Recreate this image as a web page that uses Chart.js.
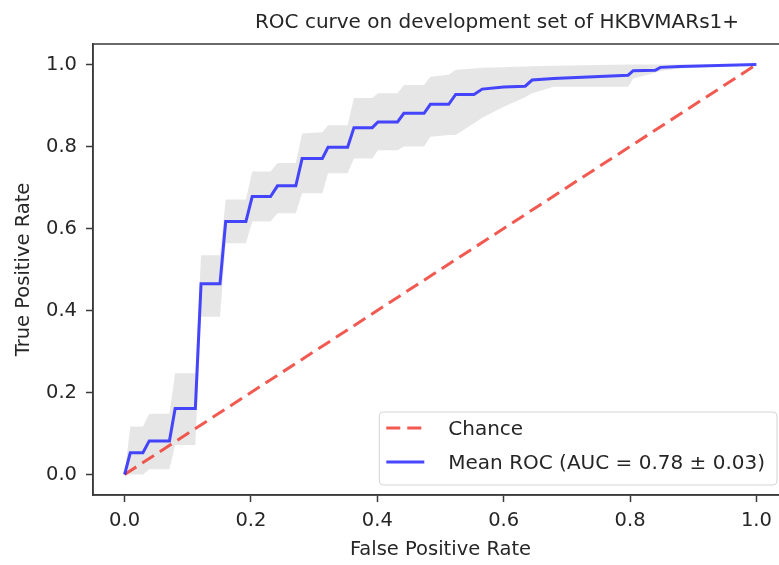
<!DOCTYPE html>
<html>
<head>
<meta charset="utf-8">
<title>ROC curve</title>
<script src="https://cdn.jsdelivr.net/npm/chart.js@4.4.1/dist/chart.umd.min.js"></script>
<style>
  html, body { margin: 0; padding: 0; background: #fff; overflow: hidden; }
  #wrap { width: 800px; height: 565px; }
</style>
</head>
<body>
<div id="wrap"><canvas id="roc" width="800" height="565"></canvas></div>
<script>
/* ── Data ───────────────────────────────────────────────────── */

const fprGrid = [0, 0.009, 0.029, 0.039, 0.071, 0.080, 0.112, 0.121, 0.151, 0.160,
                 0.192, 0.202, 0.231, 0.242, 0.271, 0.281, 0.313, 0.322, 0.353, 0.363,
                 0.392, 0.401, 0.432, 0.442, 0.474, 0.484, 0.513, 0.524, 0.553, 0.566,
                 0.600, 0.634, 0.645, 0.679, 0.797, 0.805, 0.840, 0.848, 0.879, 1.000];

const meanTpr  = [0, 0.053, 0.053, 0.082, 0.082, 0.161, 0.161, 0.465, 0.465, 0.617,
                  0.617, 0.678, 0.678, 0.704, 0.704, 0.771, 0.771, 0.798, 0.798, 0.846,
                  0.846, 0.860, 0.860, 0.881, 0.881, 0.903, 0.903, 0.927, 0.927, 0.940,
                  0.945, 0.947, 0.962, 0.966, 0.974, 0.985, 0.986, 0.993, 0.995, 1.000];

const tprLower = [0, 0, 0, 0.013, 0.013, 0.072, 0.072, 0.385, 0.385, 0.564,
                  0.564, 0.617, 0.617, 0.637, 0.637, 0.686, 0.686, 0.735, 0.735, 0.771,
                  0.771, 0.791, 0.791, 0.800, 0.800, 0.824, 0.828, 0.828, 0.857, 0.870,
                  0.897, 0.920, 0.930, 0.946, 0.946, 0.966, 0.980, 0.984, 0.990, 1.000];

const tprUpper = [0, 0.117, 0.117, 0.148, 0.148, 0.247, 0.247, 0.535, 0.535, 0.671,
                  0.671, 0.739, 0.739, 0.760, 0.760, 0.832, 0.835, 0.852, 0.852, 0.918,
                  0.918, 0.930, 0.930, 0.950, 0.950, 0.970, 0.975, 0.987, 0.990, 0.992,
                  0.993, 0.995, 0.996, 0.997, 1.000, 1.000, 1.000, 1.000, 1.000, 1.000];

const chanceFpr = [0, 1];
const chanceTpr = [0, 1];

const tickValues = [0, 0.2, 0.4, 0.6, 0.8, 1.0];

const titleText   = "ROC curve on development set of HKBVMARs1+";
const xLabel      = "False Positive Rate";
const yLabel      = "True Positive Rate";
const meanLabel   = "Mean ROC (AUC = 0.78 \u00b1 0.03)";
const chanceLabel = "Chance";

/* ── Helpers ────────────────────────────────────────────────── */

const FONT = "'DejaVu Sans', sans-serif";
const TXT  = "#262626";

function toPoints(xs, ys) {
  return xs.map((x, i) => ({ x: x, y: ys[i] }));
}

/* ── Title, frame and legend drawn on top ───────────────────── */

const decorPlugin = {
  id: "decor",
  afterDraw(chart) {
    const ctx = chart.ctx;
    const a = chart.chartArea;

    // axes frame
    ctx.save();
    ctx.strokeStyle = "#3a3a3a";
    ctx.lineWidth = 1.5;
    ctx.strokeRect(a.left, a.top, a.right - a.left, a.bottom - a.top);

    // title (sits right of the axes centre in the reference)
    ctx.fillStyle = TXT;
    ctx.font = "20px " + FONT;
    ctx.textAlign = "center";
    ctx.textBaseline = "middle";
    ctx.fillText(titleText, 497, 23);

    // legend
    const ds = chart.data.datasets;
    ctx.font = "20px " + FONT;
    const w = 69 + Math.max(ctx.measureText(meanLabel).width, ctx.measureText(chanceLabel).width) + 12;
    const h = 73;
    const bx = a.right - 11 - w;
    const by = a.bottom - 10 - h;
    ctx.beginPath();
    ctx.roundRect(bx, by, w, h, 4);
    ctx.fillStyle = "rgba(255,255,255,0.85)";
    ctx.fill();
    ctx.strokeStyle = "#d4d4d4";
    ctx.lineWidth = 1;
    ctx.stroke();

    const rows = [
      { ds: ds[1], label: chanceLabel, y: by + 16 },
      { ds: ds[0], label: meanLabel,   y: by + 50 },
    ];
    rows.forEach(r => {
      ctx.beginPath();
      ctx.setLineDash(r.ds.borderDash || []);
      ctx.strokeStyle = r.ds.borderColor;
      ctx.lineWidth = r.ds.borderWidth;
      ctx.moveTo(bx + 7, r.y);
      ctx.lineTo(bx + 45, r.y);
      ctx.stroke();
      ctx.setLineDash([]);
      ctx.fillStyle = TXT;
      ctx.textAlign = "left";
      ctx.fillText(r.label, bx + 69, r.y + 2);
    });
    ctx.restore();
  },
};

/* ── Chart ──────────────────────────────────────────────────── */

const tickFont = { family: FONT, size: 19.5 };

new Chart(document.getElementById("roc"), {
  type: "line",
  data: {
    datasets: [
      {
        label: meanLabel,
        data: toPoints(fprGrid, meanTpr),
        borderColor: "rgba(40,40,255,0.85)",
        borderWidth: 3,
        pointRadius: 0,
        fill: false,
      },
      {
        label: chanceLabel,
        data: toPoints(chanceFpr, chanceTpr),
        borderColor: "rgba(240,60,50,0.85)",
        borderWidth: 3,
        borderDash: [14, 7],
        pointRadius: 0,
        fill: false,
      },
      {
        label: "+1 std",
        data: toPoints(fprGrid, tprUpper),
        borderWidth: 0,
        borderColor: "rgba(0,0,0,0)",
        backgroundColor: "rgba(128,128,128,0.2)",
        pointRadius: 0,
        fill: "+1",
      },
      {
        label: "-1 std",
        data: toPoints(fprGrid, tprLower),
        borderWidth: 0,
        borderColor: "rgba(0,0,0,0)",
        pointRadius: 0,
        fill: false,
      },
    ],
  },
  options: {
    responsive: false,
    animation: false,
    layout: { padding: { top: 44, right: 12, left: 0, bottom: 0 } },
    elements: { line: { tension: 0 } },
    plugins: {
      legend: { display: false },
      tooltip: { enabled: false },
      title: { display: false },
    },
    scales: {
      x: {
        type: "linear",
        min: -0.05,
        max: 1.05,
        afterBuildTicks: s => { s.ticks = tickValues.map(v => ({ value: v })); },
        afterFit: s => { s.height = 70; },
        grid: { drawOnChartArea: false, tickLength: 7, tickColor: "#3a3a3a", tickWidth: 1.5 },
        border: { display: true, color: "#3a3a3a", width: 1.5 },
        ticks: { color: TXT, font: tickFont, padding: 7, maxRotation: 0,
                 callback: v => Number(v).toFixed(1) },
        title: { display: true, text: xLabel, color: TXT, font: tickFont,
                 padding: { top: 0, bottom: 3 } },
      },
      y: {
        type: "linear",
        min: -0.05,
        max: 1.05,
        afterBuildTicks: s => { s.ticks = tickValues.map(v => ({ value: v })); },
        afterFit: s => { s.width = 93; },
        grid: { drawOnChartArea: false, tickLength: 7, tickColor: "#3a3a3a", tickWidth: 1.5 },
        border: { display: true, color: "#3a3a3a", width: 1.5 },
        ticks: { color: TXT, font: tickFont, padding: 9,
                 callback: v => Number(v).toFixed(1) },
        title: { display: true, text: yLabel, color: TXT, font: tickFont,
                 padding: { top: 12, bottom: 0 } },
      },
    },
  },
  plugins: [decorPlugin],
});
</script>
</body>
</html>
